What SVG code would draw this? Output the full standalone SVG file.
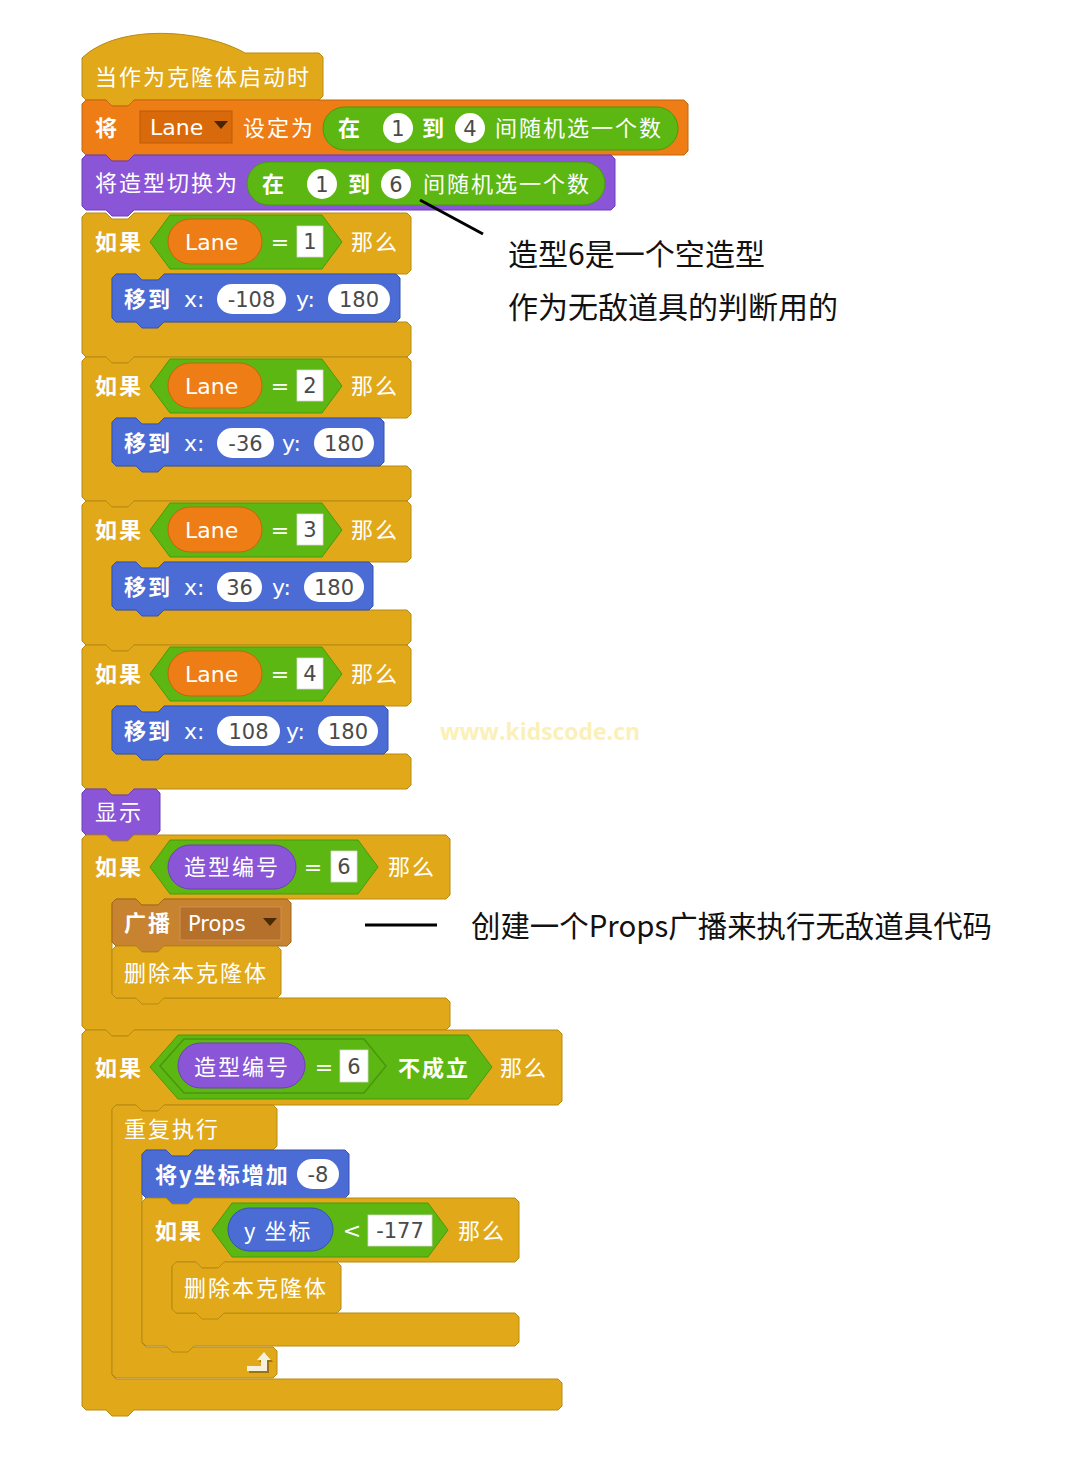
<svg xmlns="http://www.w3.org/2000/svg" width="1080" height="1462" viewBox="0 0 1080 1462">
<style>
.ctl{fill:#E1A91A;stroke:#B88A12;stroke-width:1}
.dat{fill:#EE7D16;stroke:#C4650F;stroke-width:1}
.lok{fill:#8A55D7;stroke:#6D3EBA;stroke-width:1}
.mot{fill:#4A6CD4;stroke:#3652AE;stroke-width:1}
.opr{fill:#5CB712;stroke:#479A0C;stroke-width:1}
.evt{fill:#C88330;stroke:#A2651F;stroke-width:1}
.wh{fill:#fff;stroke:#d8d8d8;stroke-width:0.8}
.t{font-family:"Noto Sans CJK SC","DejaVu Sans",sans-serif;font-size:22px;fill:#fff;letter-spacing:2px}
.b{font-weight:bold}
.lat{font-family:"DejaVu Sans",sans-serif;font-size:22px;fill:#fff}
.sym{font-family:"DejaVu Sans",sans-serif;font-size:22px;fill:#fff;text-anchor:middle}
.num{font-family:"DejaVu Sans",sans-serif;font-size:21px;fill:#4a4a4a;text-anchor:middle}
.ann{font-family:"Noto Sans CJK SC","DejaVu Sans",sans-serif;font-size:30px;fill:#111}
.note{stroke:#000;stroke-width:3;fill:none}
</style>

<g id="hat">
<path class="ctl" d="M82,58 C120,22 205,30 245,53 H319 L323,57 V96 L319,100 H134 L128,106 H112 L106,100 H86 L82,96 Z"/>
<text class="t" x="95" y="85">当作为克隆体启动时</text>
</g>

<g id="set-lane">
<path class="dat" d="M82,104 L86,100 H106 L112,106 H128 L134,100 H684 L688,104 V151 L684,155 H134 L128,161 H112 L106,155 H86 L82,151 Z"/>
<text class="t b" x="95" y="136">将</text>
<rect x="140" y="111" width="92" height="32" fill="#D96A0C" stroke="#BE5A08"/>
<text class="lat" x="150" y="135">Lane</text>
<polygon points="214,121 228,121 221,129" fill="#4a2600"/>
<text class="t" x="243" y="136">设定为</text>
<rect class="opr" x="323" y="107" width="355" height="43" rx="21.5"/>
<text class="t b" x="338" y="136">在</text>
<circle cx="398" cy="128" r="15" fill="#fff"/>
<text class="num" x="398" y="136">1</text>
<text class="t b" x="422" y="136">到</text>
<circle cx="470" cy="128" r="15" fill="#fff"/>
<text class="num" x="470" y="136">4</text>
<text class="t" x="495" y="136">间随机选一个数</text>
</g>

<g id="switch-costume">
<path class="lok" d="M82,159 L86,155 H106 L112,161 H128 L134,155 H611 L615,159 V206 L611,210 H134 L128,216 H112 L106,210 H86 L82,206 Z"/>
<text class="t" x="95" y="191">将造型切换为</text>
<rect class="opr" x="247" y="162" width="358" height="43" rx="21.5"/>
<text class="t b" x="262" y="192">在</text>
<circle cx="322" cy="184" r="15" fill="#fff"/>
<text class="num" x="322" y="192">1</text>
<text class="t b" x="348" y="192">到</text>
<circle cx="396" cy="184" r="15" fill="#fff"/>
<text class="num" x="396" y="192">6</text>
<text class="t" x="423" y="192">间随机选一个数</text>
</g>

<g id="if-lane-1">
<path class="ctl" d="M82,217 L86,213 H106 L112,219 H128 L134,213 H407 L411,217 V270 L407,274 H164 L158,280 H142 L136,274 H116 L112,278 V318 L116,322 H407 L411,326 V353 L407,357 H134 L128,363 H112 L106,357 H86 L82,353 Z"/>
<text class="t b" x="95" y="250">如果</text>
<polygon class="opr" points="150,242 170,215 322,215 342,242 322,269 170,269"/>
<rect class="dat" x="168" y="219" width="94" height="45" rx="22.5"/>
<text class="lat" x="185" y="250">Lane</text>
<text class="sym" x="280" y="250">=</text>
<rect class="wh" x="297" y="226" width="26" height="31"/>
<text class="num" x="310" y="249">1</text>
<text class="t" x="351" y="250">那么</text>
<path class="mot" d="M112,278 L116,274 H136 L142,280 H158 L164,274 H396 L400,278 V318 L396,322 H164 L158,328 H142 L136,322 H116 L112,318 Z"/>
<text class="t b" x="124" y="307">移到</text>
<text class="lat" x="184" y="307">x:</text>
<rect x="217" y="284" width="69" height="30" rx="15" fill="#fff"/>
<text class="num" x="251.5" y="307">-108</text>
<text class="lat" x="296" y="307">y:</text>
<rect x="328" y="284" width="62" height="30" rx="15" fill="#fff"/>
<text class="num" x="359" y="307">180</text>
</g>

<g id="if-lane-2">
<path class="ctl" d="M82,361 L86,357 H106 L112,363 H128 L134,357 H407 L411,361 V414 L407,418 H164 L158,424 H142 L136,418 H116 L112,422 V462 L116,466 H407 L411,470 V497 L407,501 H134 L128,507 H112 L106,501 H86 L82,497 Z"/>
<text class="t b" x="95" y="394">如果</text>
<polygon class="opr" points="150,386 170,359 322,359 342,386 322,413 170,413"/>
<rect class="dat" x="168" y="363" width="94" height="45" rx="22.5"/>
<text class="lat" x="185" y="394">Lane</text>
<text class="sym" x="280" y="394">=</text>
<rect class="wh" x="297" y="370" width="26" height="31"/>
<text class="num" x="310" y="393">2</text>
<text class="t" x="351" y="394">那么</text>
<path class="mot" d="M112,422 L116,418 H136 L142,424 H158 L164,418 H380 L384,422 V462 L380,466 H164 L158,472 H142 L136,466 H116 L112,462 Z"/>
<text class="t b" x="124" y="451">移到</text>
<text class="lat" x="184" y="451">x:</text>
<rect x="217" y="428" width="57" height="30" rx="15" fill="#fff"/>
<text class="num" x="245.5" y="451">-36</text>
<text class="lat" x="282" y="451">y:</text>
<rect x="314" y="428" width="60" height="30" rx="15" fill="#fff"/>
<text class="num" x="344" y="451">180</text>
</g>

<g id="if-lane-3">
<path class="ctl" d="M82,505 L86,501 H106 L112,507 H128 L134,501 H407 L411,505 V558 L407,562 H164 L158,568 H142 L136,562 H116 L112,566 V606 L116,610 H407 L411,614 V641 L407,645 H134 L128,651 H112 L106,645 H86 L82,641 Z"/>
<text class="t b" x="95" y="538">如果</text>
<polygon class="opr" points="150,530 170,503 322,503 342,530 322,557 170,557"/>
<rect class="dat" x="168" y="507" width="94" height="45" rx="22.5"/>
<text class="lat" x="185" y="538">Lane</text>
<text class="sym" x="280" y="538">=</text>
<rect class="wh" x="297" y="514" width="26" height="31"/>
<text class="num" x="310" y="537">3</text>
<text class="t" x="351" y="538">那么</text>
<path class="mot" d="M112,566 L116,562 H136 L142,568 H158 L164,562 H369 L373,566 V606 L369,610 H164 L158,616 H142 L136,610 H116 L112,606 Z"/>
<text class="t b" x="124" y="595">移到</text>
<text class="lat" x="184" y="595">x:</text>
<rect x="217" y="572" width="45" height="30" rx="15" fill="#fff"/>
<text class="num" x="239.5" y="595">36</text>
<text class="lat" x="272" y="595">y:</text>
<rect x="304" y="572" width="60" height="30" rx="15" fill="#fff"/>
<text class="num" x="334" y="595">180</text>
</g>

<g id="if-lane-4">
<path class="ctl" d="M82,649 L86,645 H106 L112,651 H128 L134,645 H407 L411,649 V702 L407,706 H164 L158,712 H142 L136,706 H116 L112,710 V750 L116,754 H407 L411,758 V785 L407,789 H134 L128,795 H112 L106,789 H86 L82,785 Z"/>
<text class="t b" x="95" y="682">如果</text>
<polygon class="opr" points="150,674 170,647 322,647 342,674 322,701 170,701"/>
<rect class="dat" x="168" y="651" width="94" height="45" rx="22.5"/>
<text class="lat" x="185" y="682">Lane</text>
<text class="sym" x="280" y="682">=</text>
<rect class="wh" x="297" y="658" width="26" height="31"/>
<text class="num" x="310" y="681">4</text>
<text class="t" x="351" y="682">那么</text>
<path class="mot" d="M112,710 L116,706 H136 L142,712 H158 L164,706 H384 L388,710 V750 L384,754 H164 L158,760 H142 L136,754 H116 L112,750 Z"/>
<text class="t b" x="124" y="739">移到</text>
<text class="lat" x="184" y="739">x:</text>
<rect x="217" y="716" width="63" height="30" rx="15" fill="#fff"/>
<text class="num" x="248.5" y="739">108</text>
<text class="lat" x="286" y="739">y:</text>
<rect x="318" y="716" width="60" height="30" rx="15" fill="#fff"/>
<text class="num" x="348" y="739">180</text>
</g>

<g id="show">
<path class="lok" d="M82,793 L86,789 H106 L112,795 H128 L134,789 H156 L160,793 V831 L156,835 H134 L128,841 H112 L106,835 H86 L82,831 Z"/>
<text class="t" x="95" y="820">显示</text>
</g>

<g id="if-costume-6">
<path class="ctl" d="M82,839 L86,835 H106 L112,841 H128 L134,835 H446 L450,839 V895 L446,899 H164 L158,905 H142 L136,899 H116 L112,903 V994 L116,998 H446 L450,1002 V1026 L446,1030 H134 L128,1036 H112 L106,1030 H86 L82,1026 Z"/>
<text class="t b" x="95" y="875">如果</text>
<polygon class="opr" points="150,867 170,840 358,840 378,867 358,894 170,894"/>
<rect class="lok" x="168" y="845" width="128" height="44" rx="22"/>
<text class="t" x="184" y="875">造型编号</text>
<text class="sym" x="313" y="875">=</text>
<rect class="wh" x="331" y="851" width="26" height="31"/>
<text class="num" x="344" y="874">6</text>
<text class="t" x="388" y="875">那么</text>
</g>

<g id="broadcast-props">
<path class="evt" d="M112,903 L116,899 H136 L142,905 H158 L164,899 H287 L291,903 V942 L287,946 H164 L158,952 H142 L136,946 H116 L112,942 Z"/>
<text class="t b" x="124" y="931">广播</text>
<rect x="180" y="907" width="101" height="33" fill="#B5712B" stroke="#D09050" stroke-width="1"/>
<text class="lat" x="188" y="931" style="font-size:21px">Props</text>
<polygon points="263,918 277,918 270,926" fill="#4a2a00"/>
</g>

<g id="delete-clone-1">
<path class="ctl" d="M112,950 L116,946 H136 L142,952 H158 L164,946 H277 L281,950 V994 L277,998 H164 L158,1004 H142 L136,998 H116 L112,994 Z"/>
<text class="t" x="124" y="981">删除本克隆体</text>
</g>

<g id="if-not-costume-6">
<path class="ctl" d="M82,1034 L86,1030 H106 L112,1036 H128 L134,1030 H558 L562,1034 V1101 L558,1105 H164 L158,1111 H142 L136,1105 H116 L112,1109 V1375 L116,1379 H558 L562,1383 V1406 L558,1410 H134 L128,1416 H112 L106,1410 H86 L82,1406 Z"/>
<text class="t b" x="95" y="1076">如果</text>
<polygon class="opr" points="150,1067 178,1035 468,1035 492,1067 468,1099 178,1099"/>
<polygon points="160,1066 184,1039 364,1039 386,1066 364,1093 184,1093" fill="#5CB712" stroke="#4A960F" stroke-width="1.5"/>
<rect class="lok" x="178" y="1043" width="127" height="45" rx="22.5"/>
<text class="t" x="194" y="1075">造型编号</text>
<text class="sym" x="324" y="1075">=</text>
<rect class="wh" x="340" y="1050" width="28" height="32"/>
<text class="num" x="354" y="1074">6</text>
<text class="t b" x="398" y="1076">不成立</text>
<text class="t" x="500" y="1076">那么</text>
</g>

<g id="forever">
<path class="ctl" d="M112,1109 L116,1105 H136 L142,1111 H158 L164,1105 H273 L277,1109 V1146 L273,1150 H194 L188,1156 H172 L166,1150 H146 L142,1154 V1343 L146,1347 H273 L277,1351 V1374 L273,1378 H116 L112,1374 Z"/>
<text class="t" x="124" y="1137">重复执行</text>
<path d="M249,1368 H263 V1362 H259 L266,1354 L273,1362 H269 V1373 H249 Z" fill="#9A7410"/>
<path d="M247,1366 H261 V1360 H257 L264,1352 L271,1360 H267 V1371 H247 Z" fill="#F6F0DC"/>
</g>

<g id="change-y">
<path class="mot" d="M142,1154 L146,1150 H166 L172,1156 H188 L194,1150 H345 L349,1154 V1194 L345,1198 H194 L188,1204 H172 L166,1198 H146 L142,1194 Z"/>
<text class="t b" x="155" y="1183">将y坐标增加</text>
<rect x="297" y="1159" width="42" height="30" rx="15" fill="#fff"/>
<text class="num" x="318" y="1182">-8</text>
</g>

<g id="if-y-less">
<path class="ctl" d="M142,1202 L146,1198 H166 L172,1204 H188 L194,1198 H515 L519,1202 V1258 L515,1262 H224 L218,1268 H202 L196,1262 H176 L172,1266 V1309 L176,1313 H515 L519,1317 V1342 L515,1346 H194 L188,1352 H172 L166,1346 H146 L142,1342 Z"/>
<text class="t b" x="155" y="1239">如果</text>
<polygon class="opr" points="212,1230 232,1203 428,1203 448,1230 428,1257 232,1257"/>
<rect class="mot" x="228" y="1208" width="105" height="43" rx="21.5"/>
<text class="t" x="244" y="1239">y 坐标</text>
<text class="sym" x="352" y="1238">&lt;</text>
<rect class="wh" x="368" y="1215" width="64" height="31"/>
<text class="num" x="400" y="1238">-177</text>
<text class="t" x="458" y="1239">那么</text>
</g>

<g id="delete-clone-2">
<path class="ctl" d="M172,1266 L176,1262 H196 L202,1268 H218 L224,1262 H337 L341,1266 V1309 L337,1313 H224 L218,1319 H202 L196,1313 H176 L172,1309 Z"/>
<text class="t" x="184" y="1296">删除本克隆体</text>
</g>

<g id="connectors">
<line class="note" x1="420" y1="200" x2="483" y2="234"/>
<line class="note" x1="365" y1="925" x2="437" y2="925"/>
</g>

<g id="notes">
<text class="ann" x="508" y="265" textLength="257" lengthAdjust="spacingAndGlyphs">造型6是一个空造型</text>
<text class="ann" x="508" y="318" textLength="330" lengthAdjust="spacingAndGlyphs">作为无敌道具的判断用的</text>
<text class="ann" x="471" y="937" textLength="521" lengthAdjust="spacingAndGlyphs">创建一个Props广播来执行无敌道具代码</text>
<text x="440" y="740" textLength="200" lengthAdjust="spacingAndGlyphs" style="font-family:'Open Sans','DejaVu Sans',sans-serif;font-weight:bold;font-size:24px;fill:#FBF0B8">www.kidscode.cn</text>
</g>
</svg>
